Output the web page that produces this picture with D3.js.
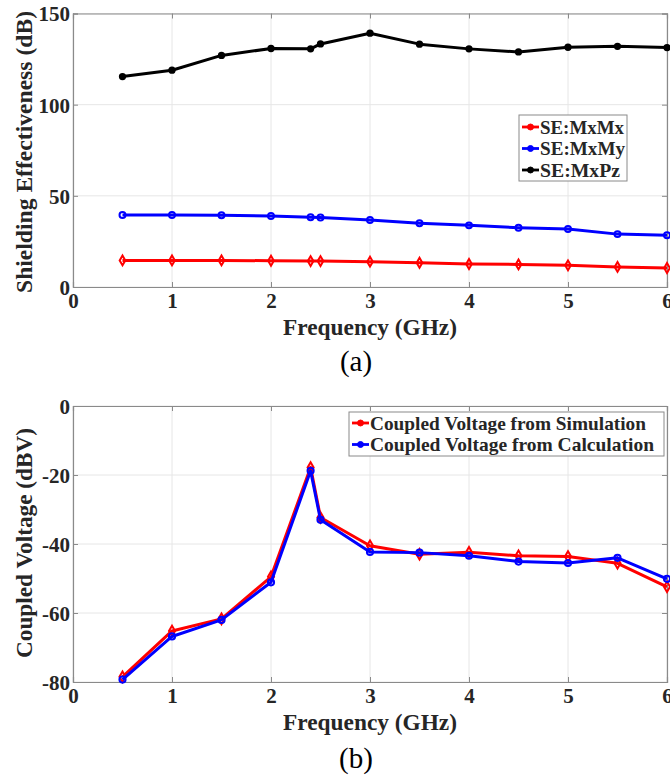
<!DOCTYPE html>
<html><head><meta charset="utf-8">
<script src="https://cdn.jsdelivr.net/npm/d3@7"></script>
<style>body{margin:0;background:#fff}svg{display:block}</style>
</head><body>
<svg id="c" width="670" height="776"></svg>
<script>
const freqs = [0.5,1,1.5,2,2.4,2.5,3,3.5,4,4.5,5,5.5,6];
const seMxMx = [14.6,14.6,14.6,14.4,14.2,14.2,13.9,13.3,12.6,12.4,11.9,11.0,10.4];
const seMxMy = [39.5,39.5,39.3,38.9,38.2,38.1,36.7,35.0,33.8,32.5,31.8,29.0,28.4];
const seMxPz = [115.4,118.9,127.0,130.8,130.6,133.3,139.2,133.2,130.6,128.9,131.5,132.0,131.3];
const vSim = [-78.5,-65.2,-61.7,-49.5,-17.8,-32.3,-40.5,-43.0,-42.4,-43.4,-43.6,-45.6,-52.4];
const vCalc = [-79.3,-66.8,-62.0,-51.1,-18.8,-33.0,-42.3,-42.5,-43.4,-45.1,-45.5,-44.0,-50.1];
const xTicks = [0,1,2,3,4,5,6];
const yTicksA = [0,50,100,150];
const yTicksB = [-80,-60,-40,-20,0];

const svg = d3.select("#c");
const FONT = "'Liberation Serif','Times New Roman',serif";
const fmt = d => String(d);

function panel(cfg){
  const g = svg.append("g");
  const x = d3.scaleLinear().domain([0,6]).range([cfg.left, cfg.right]);
  const y = d3.scaleLinear().domain(cfg.ydom).range([cfg.bottom, cfg.top]);
  // grid
  g.append("g").selectAll("line").data(xTicks).join("line")
    .attr("x1",d=>x(d)).attr("x2",d=>x(d)).attr("y1",cfg.top).attr("y2",cfg.bottom)
    .attr("stroke","#e6e6e6").attr("stroke-width",1);
  g.append("g").selectAll("line").data(cfg.yticks).join("line")
    .attr("y1",d=>y(d)).attr("y2",d=>y(d)).attr("x1",cfg.left).attr("x2",cfg.right)
    .attr("stroke","#e6e6e6").attr("stroke-width",1);
  // axes
  const ax = d3.axisBottom(x).tickValues(xTicks).tickSize(-5).tickPadding(6).tickFormat(fmt);
  const gx = g.append("g").attr("transform",`translate(0,${cfg.bottom})`).call(ax);
  const axT = d3.axisTop(x).tickValues(xTicks).tickSize(-5).tickFormat("");
  const gxt = g.append("g").attr("transform",`translate(0,${cfg.top})`).call(axT);
  const ay = d3.axisLeft(y).tickValues(cfg.yticks).tickSize(-5).tickPadding(3).tickFormat(fmt);
  const gy = g.append("g").attr("transform",`translate(${cfg.left},0)`).call(ay);
  const ayR = d3.axisRight(y).tickValues(cfg.yticks).tickSize(-5).tickFormat("");
  const gyr = g.append("g").attr("transform",`translate(${cfg.right},0)`).call(ayR);
  [gx,gxt,gy,gyr].forEach(a=>{
    a.select(".domain").attr("stroke","#8a8a8a").attr("stroke-width",1.2);
    a.selectAll(".tick line").attr("stroke","#8a8a8a");
    a.selectAll("text").attr("font-family",FONT).attr("font-weight","bold").attr("font-size",21).attr("fill","#262626");
  });
  gx.selectAll("text").attr("dy","0.7em");
  gy.selectAll("text").attr("dy","0.35em");
  // axis labels
  svg.append("text").attr("x",370).attr("y",cfg.bottom+48)
    .attr("text-anchor","middle").attr("font-family",FONT).attr("font-weight","bold")
    .attr("font-size",23).attr("fill","#262626")
    .attr("textLength",174).attr("lengthAdjust","spacingAndGlyphs").text("Frequency (GHz)");
  svg.append("text").attr("transform",`translate(${cfg.ylabX},${cfg.ylabY}) rotate(-90)`)
    .attr("text-anchor","middle").attr("font-family",FONT).attr("font-weight","bold")
    .attr("font-size",24).attr("fill","#262626")
    .attr("textLength",cfg.ylabLen).attr("lengthAdjust","spacingAndGlyphs").text(cfg.ylabel);
  svg.append("text").attr("x",356).attr("y",cfg.capY)
    .attr("text-anchor","middle").attr("font-family",FONT)
    .attr("font-size",29).attr("fill","#000").text(cfg.caption);
  // series
  const line = d3.line().x(d=>x(d[0])).y(d=>y(d[1]));
  cfg.series.forEach(s=>{
    const pts = freqs.map((f,i)=>[f,s.vals[i]]);
    g.append("path").datum(pts).attr("d",line).attr("fill","none")
      .attr("stroke",s.color).attr("stroke-width",3).attr("stroke-linejoin","round");
    const sym = d3.symbol().type(s.sym).size(s.size);
    g.append("g").selectAll("path").data(pts).join("path")
      .attr("transform",d=>`translate(${x(d[0])},${y(d[1])})`)
      .attr("d",sym).attr("fill",s.fill).attr("stroke",s.color).attr("stroke-width",2);
  });
  // legend
  const L = cfg.legend;
  g.append("rect").attr("x",L.x).attr("y",L.y).attr("width",L.w).attr("height",L.h)
    .attr("fill","#fff").attr("stroke","#8a8a8a").attr("stroke-width",1);
  cfg.series.forEach((s,i)=>{
    const yy = L.y + L.pad + i*L.dy;
    g.append("line").attr("x1",L.x+3).attr("x2",L.x+20).attr("y1",yy).attr("y2",yy)
      .attr("stroke",s.color).attr("stroke-width",2.8);
    g.append("path").attr("transform",`translate(${L.x+11.5},${yy})`)
      .attr("d",d3.symbol().type(d3.symbolCircle).size(28)).attr("fill",s.color).attr("stroke",s.color);
    g.append("text").attr("x",L.x+21).attr("y",yy).attr("dy","0.35em")
      .attr("font-family",FONT).attr("font-weight","bold").attr("font-size",L.fs)
      .attr("fill","#262626").attr("textLength",L.tl[i]).attr("lengthAdjust","spacingAndGlyphs").text(s.name);
  });
}

panel({left:73,right:667,top:13.5,bottom:287,ydom:[0,150],yticks:yTicksA,
  ylabel:"Shielding Effectiveness (dB)",ylabX:32,ylabY:152,ylabLen:282,caption:"(a)",capY:371,
  series:[
    {name:"SE:MxMx",vals:seMxMx,color:"#ff0000",sym:d3.symbolDiamond,size:28,fill:"none"},
    {name:"SE:MxMy",vals:seMxMy,color:"#0000ff",sym:d3.symbolCircle,size:28,fill:"none"},
    {name:"SE:MxPz",vals:seMxPz,color:"#000000",sym:d3.symbolCircle,size:22,fill:"#000"}
  ],
  legend:{x:519,y:115,w:108,h:66,pad:12,dy:21.5,fs:19,tl:[84,85,80]}
});

panel({left:73,right:667,top:406,bottom:682,ydom:[-80,0],yticks:yTicksB,
  ylabel:"Coupled Voltage (dBV)",ylabX:32,ylabY:543,ylabLen:230,caption:"(b)",capY:768,
  series:[
    {name:"Coupled Voltage from Simulation",vals:vSim,color:"#ff0000",sym:d3.symbolDiamond,size:32,fill:"none"},
    {name:"Coupled Voltage from Calculation",vals:vCalc,color:"#0000ff",sym:d3.symbolCircle,size:30,fill:"none"}
  ],
  legend:{x:349,y:412,w:315,h:44,pad:11,dy:21.5,fs:19.5,tl:[276,284]}
});
</script>
</body></html>
